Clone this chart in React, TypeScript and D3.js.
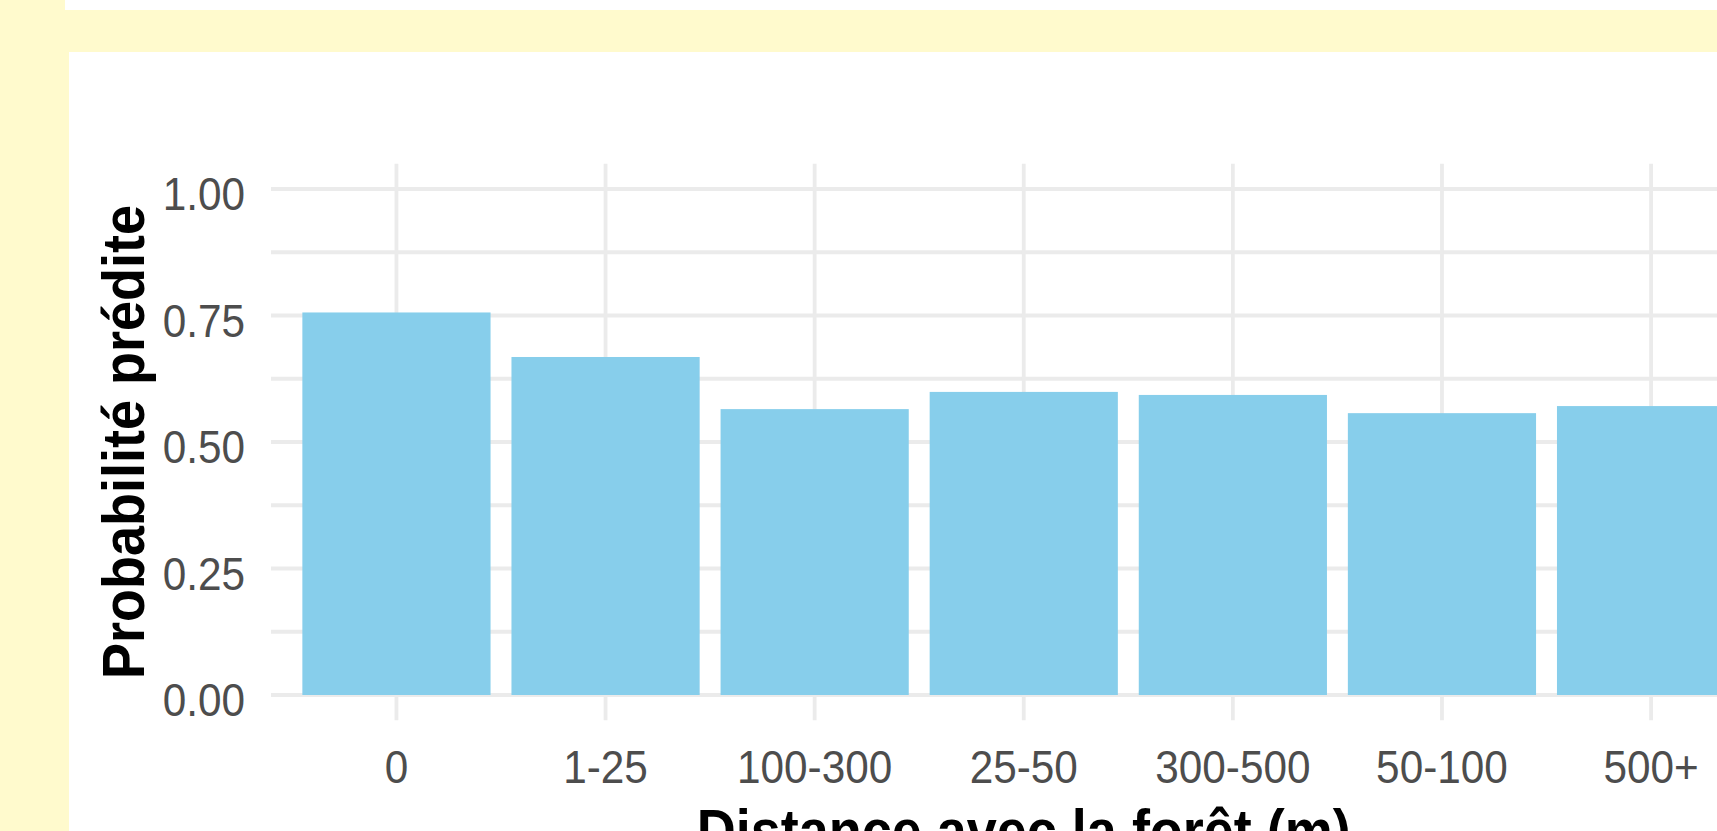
import React from "react";
import * as d3 from "d3";

const categories = ["0", "1-25", "100-300", "25-50", "300-500", "50-100", "500+"];
const values = [0.756, 0.668, 0.565, 0.599, 0.593, 0.557, 0.571];
const yMajorTicks = [0, 0.25, 0.5, 0.75, 1.0];
const yMinorTicks = [0.125, 0.375, 0.625, 0.875];
const yTickLabels = ["0.00", "0.25", "0.50", "0.75", "1.00"];
const xTitle = "Distance avec la forêt (m)";
const yTitle = "Probabilité prédite";

const W = 1717;
const H = 831;
const YELLOW = "#FFFACD";
const GRID = "#EBEBEB";
const BAR = "#87CEEB";
const FONT = "'Liberation Sans', Arial, sans-serif";

export default function App() {
  const panelLeft = 271;
  const step = 209.1;
  const panelRight = panelLeft + step * 7.2;
  const x = d3
    .scaleBand<string>()
    .domain(categories)
    .range([panelLeft, panelRight])
    .paddingInner(0.1)
    .paddingOuter(0.15);
  const y = d3.scaleLinear().domain([0, 1]).range([695, 189]);
  const panelTop = y(1.05);
  const panelBottom = y(-0.05);
  const bw = x.bandwidth();
  const center = (c: string) => (x(c) as number) + bw / 2;

  return (
    <svg
      width={W}
      height={H}
      style={{ position: "absolute", left: 0, top: 0, display: "block" }}
    >
      <rect x={0} y={0} width={W} height={H} fill={YELLOW} />
      <rect x={65} y={0} width={W - 65} height={10} fill="#FFFFFF" />
      <rect x={69} y={52} width={W - 69} height={H - 52} fill="#FFFFFF" />

      {/* minor gridlines */}
      {yMinorTicks.map((t) => (
        <line key={"mn" + t} x1={panelLeft} x2={panelRight} y1={y(t)} y2={y(t)} stroke={GRID} strokeWidth={3.8} />
      ))}
      {/* major y gridlines */}
      {yMajorTicks.map((t) => (
        <line key={"mj" + t} x1={panelLeft} x2={panelRight} y1={y(t)} y2={y(t)} stroke={GRID} strokeWidth={3.8} />
      ))}
      {/* vertical gridlines */}
      {categories.map((c) => (
        <line key={"v" + c} x1={center(c)} x2={center(c)} y1={panelTop} y2={panelBottom} stroke={GRID} strokeWidth={3.8} />
      ))}

      {/* bars */}
      {categories.map((c, i) => (
        <rect key={"b" + c} x={x(c)} y={y(values[i])} width={bw} height={y(0) - y(values[i])} fill={BAR} />
      ))}

      {/* y tick labels */}
      {yMajorTicks.map((t, i) => (
        <text
          key={"yl" + t}
          transform={`translate(245,${y(t) + 21}) scale(0.9,1)`}
          textAnchor="end"
          fontFamily={FONT}
          fontSize={47}
          fill="#4D4D4D"
        >
          {yTickLabels[i]}
        </text>
      ))}

      {/* x tick labels */}
      {categories.map((c) => (
        <text
          key={"xl" + c}
          transform={`translate(${center(c)},783) scale(0.9,1)`}
          textAnchor="middle"
          fontFamily={FONT}
          fontSize={47}
          fill="#4D4D4D"
        >
          {c}
        </text>
      ))}

      {/* axis titles */}
      <text
        transform={`translate(${(panelLeft + panelRight) / 2},851) scale(0.9,1)`}
        textAnchor="middle"
        fontFamily={FONT}
        fontWeight="bold"
        fontSize={60}
        fill="#000000"
      >
        {xTitle}
      </text>
      <text
        transform={`translate(144,${(panelTop + panelBottom) / 2}) rotate(-90) scale(0.9,1)`}
        textAnchor="middle"
        fontFamily={FONT}
        fontWeight="bold"
        fontSize={60}
        fill="#000000"
      >
        {yTitle}
      </text>
    </svg>
  );
}
